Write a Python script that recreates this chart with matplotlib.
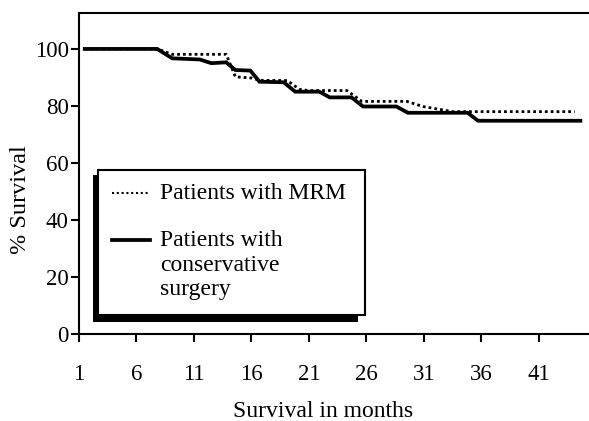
import matplotlib as mpl
import matplotlib.pyplot as plt
from matplotlib.patches import Rectangle
from matplotlib.lines import Line2D

mpl.use('Agg')
plt.rcParams['font.family'] = ['Liberation Serif', 'DejaVu Serif']

# survival curves (months, % survival)
mrm_months = [1.5, 7.8, 9.1, 13.8, 14.6, 16.0, 16.7, 19.1, 20.2, 21.0, 24.3, 25.6,
              29.5, 30.9, 33.5, 44.1]
mrm_surv = [100, 100, 98.1, 98.1, 90.2, 89.8, 89.0, 88.9, 85.8, 85.4, 85.4, 81.6,
            81.6, 79.8, 78.0, 78.0]

cons_months = [1.5, 7.8, 9.1, 11.5, 12.5, 13.8, 14.6, 15.9, 16.7, 18.8, 19.8, 21.9,
               22.8, 24.7, 25.7, 28.6, 29.6, 34.8, 35.7, 44.6]
cons_surv = [100, 100, 96.7, 96.3, 95.0, 95.3, 92.6, 92.4, 88.5, 88.3, 85.0, 85.0,
             83.0, 83.0, 79.8, 79.8, 77.6, 77.6, 74.8, 74.8]

x_ticks = [1, 6, 11, 16, 21, 26, 31, 36, 41]
y_ticks = [0, 20, 40, 60, 80, 100]

fig = plt.figure(figsize=(5.89, 4.21), dpi=100)
ax = fig.add_axes([79/589, 87/421, 510/589, 321/421])

ax.plot(mrm_months, mrm_surv, color='black', lw=2.0, ls=(0, (1, 1.1)))
ax.plot(cons_months, cons_surv, color='black', lw=2.7, solid_joinstyle='miter')

ax.set_xlim(1, 45.35)
ax.set_ylim(0, 112.6)
ax.set_xticks(x_ticks)
ax.set_yticks(y_ticks)
ax.tick_params(axis='both', labelsize=16.5, width=1.5, length=5.5, direction='out')
ax.tick_params(axis='x', pad=16)
ax.tick_params(axis='y', pad=2)
for s in ['left', 'bottom', 'top']:
    ax.spines[s].set_linewidth(1.5)
ax.spines['right'].set_visible(False)

ax.set_xlabel('Survival in months', fontsize=17, va='center')
ax.xaxis.set_label_coords(0.478, -0.24)
ax.set_ylabel('% Survival', fontsize=17.5)
ax.yaxis.set_label_coords(-0.094, 0.42)

# legend box with a solid black drop shadow
ta = ax.transAxes
ax.add_patch(Rectangle((0.0269, 0.0383), 0.520, 0.457, transform=ta,
                       facecolor='black', edgecolor='none', zorder=5))
ax.add_patch(Rectangle((0.0373, 0.0592), 0.524, 0.452, transform=ta,
                       facecolor='white', edgecolor='black', lw=1.5, zorder=6))
ax.add_line(Line2D([0.0647, 0.139], [0.439, 0.439], transform=ta, color='black',
                   lw=1.5, ls=(0, (1, 1.3)), zorder=7))
ax.add_line(Line2D([0.0647, 0.139], [0.293, 0.293], transform=ta, color='black',
                   lw=2.7, zorder=7))
ax.text(0.159, 0.439, 'Patients with MRM', transform=ta, fontsize=17,
        va='center', ha='left', zorder=7)
ax.text(0.159, 0.325, 'Patients with\nconservative\nsurgery', transform=ta,
        fontsize=17, va='top', ha='left', linespacing=1.24, zorder=7)

fig.savefig('out.png', dpi=100)
